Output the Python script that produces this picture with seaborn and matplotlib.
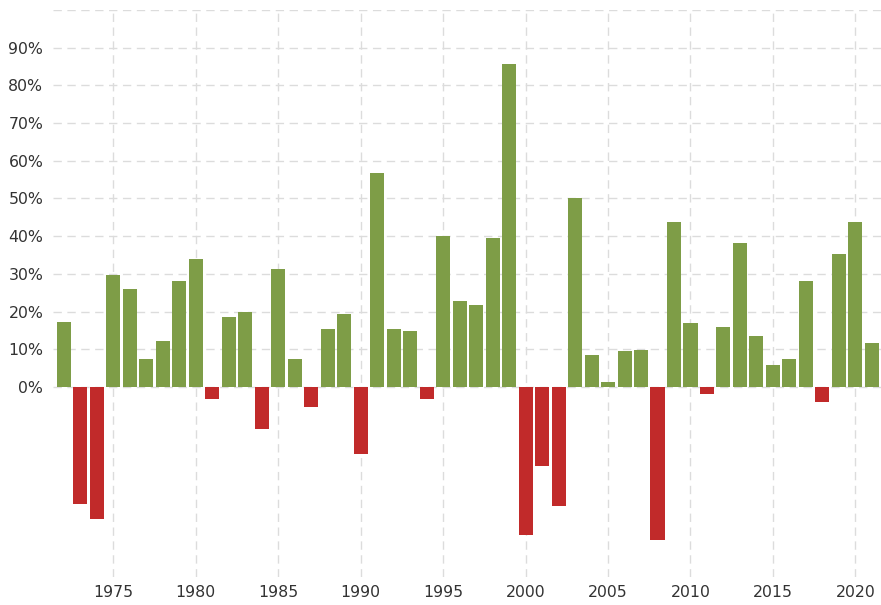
import matplotlib
matplotlib.use("Agg")
import matplotlib.pyplot as plt
import seaborn as sns
import pandas as pd

years = list(range(1972, 2022))
returns = [17.18, -31.06, -35.11, 29.76, 26.10, 7.33, 12.31, 28.11, 33.88, -3.21,
           18.67, 19.87, -11.22, 31.36, 7.36, -5.26, 15.41, 19.26, -17.80, 56.84,
           15.45, 14.75, -3.20, 39.92, 22.71, 21.64, 39.63, 85.59, -39.29, -21.05,
           -31.53, 50.01, 8.59, 1.37, 9.52, 9.81, -40.54, 43.89, 16.91, -1.80,
           15.91, 38.32, 13.40, 5.73, 7.50, 28.24, -3.88, 35.23, 43.64, 11.6]
x_ticks = [1975, 1980, 1985, 1990, 1995, 2000, 2005, 2010, 2015, 2020]
y_ticks = [0, 10, 20, 30, 40, 50, 60, 70, 80, 90, 100]
y_labels = ["0%", "10%", "20%", "30%", "40%", "50%", "60%", "70%", "80%", "90%", ""]

df = pd.DataFrame({"year": years, "ret": returns})
df["sign"] = ["pos" if r >= 0 else "neg" for r in df["ret"]]

sns.set_style("white")
plt.rcParams["font.family"] = ["DejaVu Sans"]

fig = plt.figure(figsize=(8.81, 6.05), dpi=100)
ax = fig.add_axes([53 / 881, 28 / 605, 828 / 881, 567 / 605])

sns.barplot(data=df, x="year", y="ret", hue="sign",
            palette={"pos": "#7e9d47", "neg": "#c12a2a"}, saturation=1,
            native_scale=True, dodge=False, width=0.85, legend=False,
            edgecolor="none", linewidth=0, ax=ax, zorder=3)

ax.set_xlim(1971.35, 2021.55)
ax.set_ylim(-50.4, 100)
ax.set_yticks(y_ticks)
ax.set_yticklabels(y_labels)
ax.set_xticks(x_ticks)
ax.set_xticklabels([str(v) for v in x_ticks])
ax.set_xlabel("")
ax.set_ylabel("")

for s in ax.spines.values():
    s.set_visible(False)

ax.tick_params(axis="both", length=0, labelsize=11.3, colors="#333333")
ax.tick_params(axis="y", pad=7)
ax.tick_params(axis="x", pad=6)

ax.grid(False)
for yv in y_ticks:
    ax.axhline(yv, color="#dcdcdc", lw=1.0, ls=(0, (6, 4)), zorder=1)
for xv in x_ticks:
    ax.axvline(xv, color="#dcdcdc", lw=1.0, ls=(0, (6, 4)), zorder=1)

fig.savefig("out.png", dpi=100)
